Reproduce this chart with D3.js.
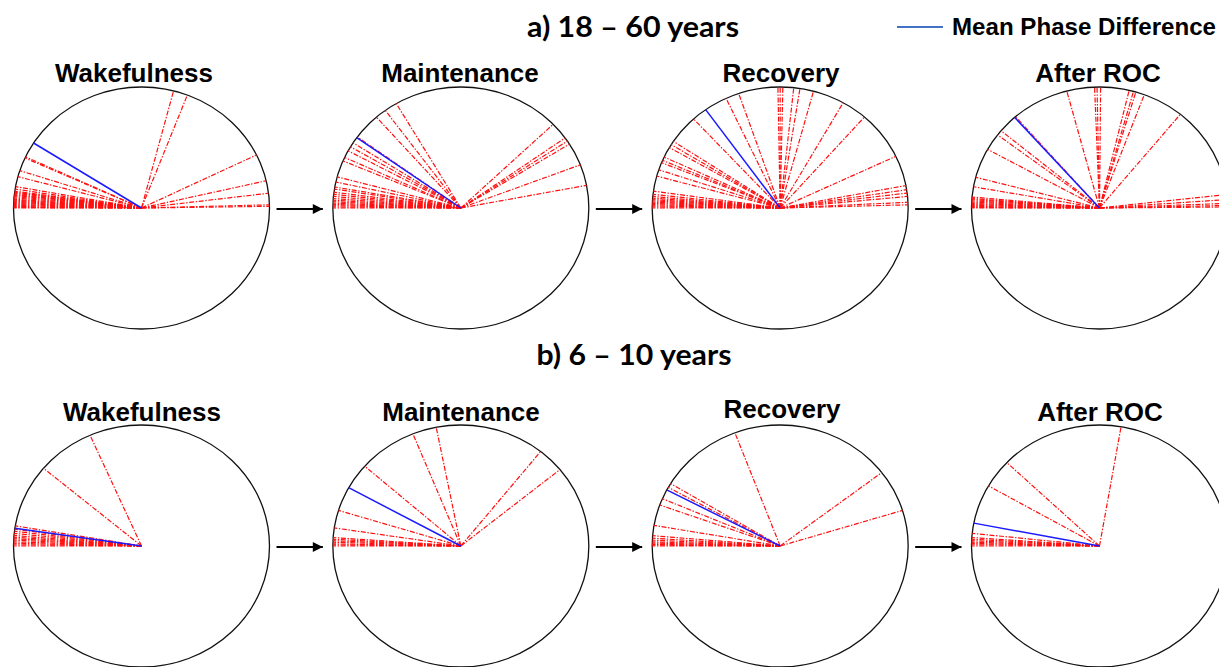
<!DOCTYPE html>
<html>
<head>
<meta charset="utf-8">
<script src="https://cdn.jsdelivr.net/npm/d3@7"></script>
<style>
  html, body { margin: 0; padding: 0; background: #fff; }
  svg { display: block; }
</style>
</head>
<body>
<svg id="chart" width="1219" height="667"></svg>
<script>
// Stage names and group headings
const stages = ["Wakefulness", "Maintenance", "Recovery", "After ROC"];
const groupTitles = ["a) 18 \u2013 60 years", "b) 6 \u2013 10 years"];
const legendLabel = "Mean Phase Difference";

// Individual phase differences (degrees), adults 18–60 years
const adultWakefulness = [75.5, 69, 26, 13, 7, 1.5, 0.8,
  155, 155.6, 162, 165, 169.8, 171, 172, 172.5, 173, 173.6, 174, 174.6, 175.2, 175.8,
  176.3, 176.8, 177.3, 177.8, 178.3, 178.8, 179.3, 179.7, 180];
const adultMaintenance = [43.8, 35.4, 33.6, 31.9, 20.9, 10.8,
  120.3, 126.2, 131.3, 144, 147.4, 149.6, 151.8, 155.3, 157.1, 165.1, 167.6, 170,
  171, 172.5, 173.5, 174.5, 175.5, 176.3, 177, 177.7, 178.3, 178.9, 179.5, 180];
const adultRecovery = [91, 90, 88.8, 83.9, 81.1, 74.9, 60.5, 48.8, 25.3,
  10.7, 8.7, 7.1, 5.5, 2.7, 1.5,
  108.9, 115, 132.6, 146.6, 148.4, 150, 155.1, 156.8, 158, 161.6, 164.7, 172,
  173.5, 174.5, 175.3, 176, 176.6, 177.2, 177.8, 178.4, 179, 179.5, 180];
const adultAfterROC = [92.2, 91.1, 89.5, 76.6, 74.6, 73.5, 69.5, 50.8,
  6.4, 4, 2.2, 1.2, 0.5,
  104.8, 131, 140.3, 142.8, 151, 165.3, 169.9, 174.8, 175.5, 176, 176.6, 177.2,
  177.8, 178.3, 178.8, 179.3, 179.7, 180];
const adultMeans = [147.5, 144.4, 125.6, 131.5];

// Individual phase differences (degrees), children 6–10 years
const childWakefulness = [113.7, 140, 170.4, 172, 173, 174, 175, 175.8, 176.5,
  177.2, 178, 178.7, 179.4, 180];
const childMaintenance = [51.4, 39.2, 101.1, 112, 138.7, 162.9, 171.4, 176, 176.8,
  177.5, 178.2, 179, 179.5, 180];
const childRecovery = [37.4, 17.1, 110.7, 148.9, 151, 157, 160.2, 170.2, 175.1,
  176.3, 177.2, 178, 178.6, 179.2, 179.6, 180];
const childAfterROC = [80.3, 136.4, 150.2, 174, 176, 176.8, 177.5, 178.2, 178.8,
  179.4, 180];
const childMeans = [171.6, 151.2, 152.4, 169.1];

// ---- layout ----
const svg = d3.select("#chart");
const rx = 128, ry = 121;
const rowY = [208, 546];
const titleBase = [[82, 82, 82, 82], [421, 421, 418, 421]];
const titleX = [[134, 460, 781, 1098], [142, 461, 782, 1100]];

const xCenter = d3.scalePoint().domain(stages).range([141.5, 1099.5]);
const toRad = d3.scaleLinear().domain([0, 360]).range([0, 2 * Math.PI]);

const rows = [
  { title: groupTitles[0], sets: [adultWakefulness, adultMaintenance, adultRecovery, adultAfterROC], means: adultMeans },
  { title: groupTitles[1], sets: [childWakefulness, childMaintenance, childRecovery, childAfterROC], means: childMeans }
];

// arrowhead marker
svg.append("defs").append("marker")
  .attr("id", "arrowhead")
  .attr("viewBox", "0 0 10 10")
  .attr("refX", 10).attr("refY", 5)
  .attr("markerUnits", "userSpaceOnUse")
  .attr("markerWidth", 11).attr("markerHeight", 10)
  .attr("orient", "auto")
  .append("path").attr("d", "M0,0 L10,5 L0,10 Z").attr("fill", "#000");

rows.forEach((row, ri) => {
  const cy = rowY[ri];
  stages.forEach((stage, si) => {
    const cx = xCenter(stage);
    const x = d3.scaleLinear().domain([-1, 1]).range([cx - rx, cx + rx]);
    const y = d3.scaleLinear().domain([-1, 1]).range([cy + ry, cy - ry]);
    const g = svg.append("g").attr("class", "compass");

    g.append("ellipse")
      .attr("cx", x(0)).attr("cy", y(0))
      .attr("rx", rx).attr("ry", ry)
      .attr("fill", "none").attr("stroke", "#111").attr("stroke-width", 1.3);

    g.selectAll("line.subject")
      .data(row.sets[si])
      .join("line")
      .attr("class", "subject")
      .attr("x1", x(0)).attr("y1", y(0))
      .attr("x2", d => x(Math.cos(toRad(d))))
      .attr("y2", d => y(Math.sin(toRad(d))))
      .attr("stroke", "#ff1010")
      .attr("stroke-width", 1.2)
      .attr("stroke-dasharray", "5,1.6,1.4,1.6");

    g.append("line")
      .datum(row.means[si])
      .attr("x1", x(0)).attr("y1", y(0))
      .attr("x2", d => x(Math.cos(toRad(d))))
      .attr("y2", d => y(Math.sin(toRad(d))))
      .attr("stroke", "#1a1aff")
      .attr("stroke-width", 1.5);

    svg.append("text")
      .attr("x", titleX[ri][si]).attr("y", titleBase[ri][si])
      .attr("text-anchor", "middle")
      .attr("font-family", "'Liberation Sans', Arial, sans-serif")
      .attr("font-weight", "bold")
      .attr("font-size", 26)
      .attr("fill", "#000")
      .text(stage);

    if (si < stages.length - 1) {
      const nx = xCenter(stages[si + 1]);
      svg.append("line")
        .attr("x1", cx + rx + 7).attr("y1", cy + 1)
        .attr("x2", nx - rx - 10).attr("y2", cy + 1)
        .attr("stroke", "#000").attr("stroke-width", 2.2)
        .attr("marker-end", "url(#arrowhead)");
    }
  });
});

// group headings
svg.append("text")
  .attr("x", 633).attr("y", 37)
  .attr("text-anchor", "middle")
  .attr("font-family", "Lato, 'Open Sans', sans-serif")
  .attr("font-weight", "bold").attr("font-size", 29)
  .attr("textLength", 212).attr("lengthAdjust", "spacingAndGlyphs")
  .text(groupTitles[0]);
svg.append("text")
  .attr("x", 634).attr("y", 365)
  .attr("text-anchor", "middle")
  .attr("font-family", "Lato, 'Open Sans', sans-serif")
  .attr("font-weight", "bold").attr("font-size", 29)
  .attr("textLength", 195).attr("lengthAdjust", "spacingAndGlyphs")
  .text(groupTitles[1]);

// legend
const legend = svg.append("g");
legend.append("line")
  .attr("x1", 897).attr("x2", 943).attr("y1", 27).attr("y2", 27)
  .attr("stroke", "#4472c4").attr("stroke-width", 2);
legend.append("text")
  .attr("x", 952).attr("y", 35)
  .attr("font-family", "'Liberation Sans Narrow', 'Liberation Sans', Arial, sans-serif")
  .attr("font-weight", "bold").attr("font-size", 23)
  .attr("textLength", 264).attr("lengthAdjust", "spacingAndGlyphs")
  .text(legendLabel);
</script>
</body>
</html>
